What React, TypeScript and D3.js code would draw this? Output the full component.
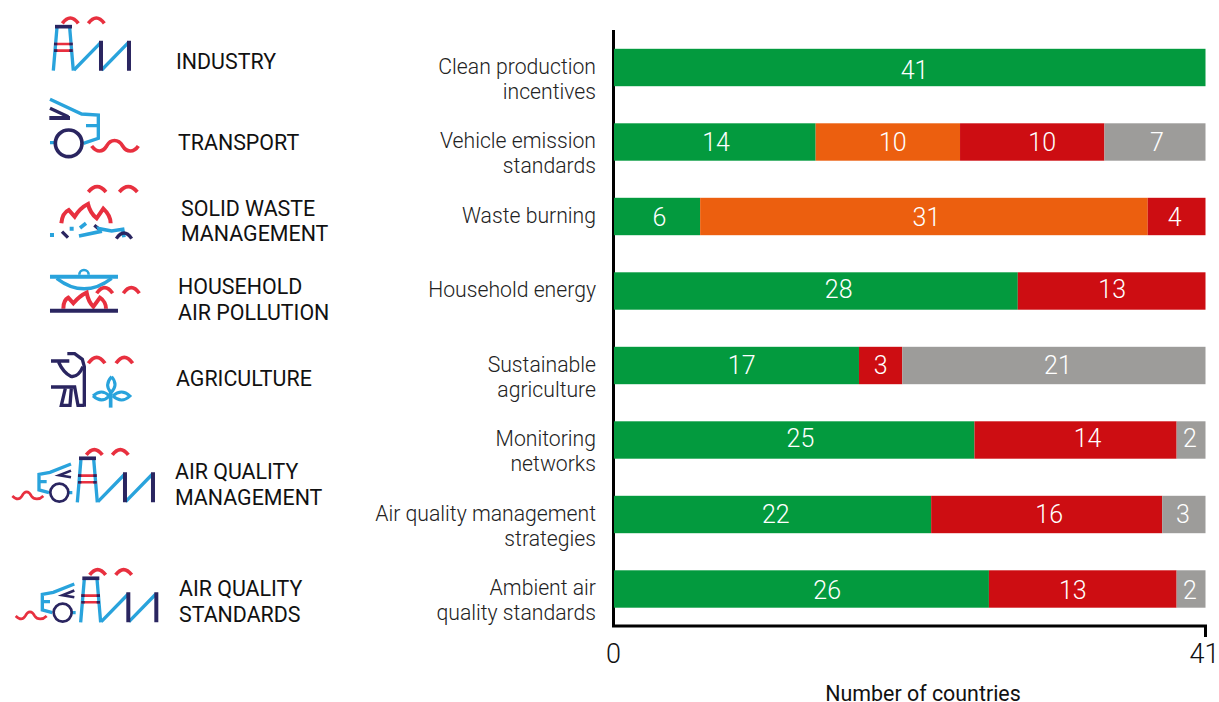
import React from "react";
import * as d3 from "d3";

const rowLines = [
  ["Clean production", "incentives"],
  ["Vehicle emission", "standards"],
  ["Waste burning"],
  ["Household energy"],
  ["Sustainable", "agriculture"],
  ["Monitoring", "networks"],
  ["Air quality management", "strategies"],
  ["Ambient air", "quality standards"],
];
const implemented = [41, 14, 6, 28, 17, 25, 22, 26];
const partial = [0, 10, 31, 0, 0, 0, 0, 0];
const notImplemented = [0, 10, 4, 13, 3, 14, 16, 13];
const noData = [0, 7, 0, 0, 21, 2, 3, 2];
const seriesValues = [implemented, partial, notImplemented, noData];
const seriesColors = ["#039a3e", "#ec5f0f", "#cd0d12", "#9d9c9a"];
const labelNudgeX = [
  [5, 0, 0, 0],
  [1.5, 5, 10, 2],
  [2.5, 2.5, -2, 0],
  [23, 0, 0.5, 0],
  [5.5, 0, 0, 4],
  [6.5, 0, 12, -1],
  [3.5, 0, 2.5, -1],
  [26, 0, -10, -1],
];
const labelNudgeY = [2, 0, 0, -2, -1, -2, -0.5, 1];
const xTicks = [0, 41];
const INK = "#111";
const BLUE = "#29a3dc";
const NAVY = "#2a2560";
const RED = "#e8303f";

const x = d3.scaleLinear().domain([0, 41]).range([613.5, 1205.5]);
const cy = (i: number) => 67.5 + i * 74.5;
const BAR_H = 37.4;

const P = (p: { d: string; c: string; w?: number; fill?: string }) => (
  <path d={p.d} stroke={p.c} strokeWidth={p.w ?? 10} fill={p.fill ?? "none"} />
);
const Arc = ({ a, b, by, top }: { a: number; b: number; by: number; top: number }) => (
  <P d={`M${a} ${by} Q${(a + b) / 2} ${2 * top - by} ${b} ${by}`} c={RED} w={11} />
);

const Factory = () => (
  <g>
    <P d="M160 212 L171 82 M220 212 L209 82" c={BLUE} />
    <P d="M165 80 H216" c={NAVY} w={11} />
    <P d="M162 132 H218 M162 152 H218" c={RED} w={8} />
    <P d="M162 132 H172 M208 132 H218 M162 152 H172 M208 152 H218" c={NAVY} w={8} />
    <P d="M222 210 L302 128 M305 210 L385 128" c={BLUE} />
    <P d="M303 122 V212 M387 122 V212" c={NAVY} w={12} />
    <Arc a={187} b={235} by={70} top={54} />
    <Arc a={265} b={313} by={70} top={54} />
  </g>
);
const SmallCar = () => (
  <g>
    <P d="M213 72 L150 97 L117 103 V150 L147 158 M117 125 H140 M205 158 H217" c={BLUE} />
    <P d="M213 92 L178 106 L213 112" c={NAVY} w={8} />
    <circle cx={178} cy={158} r={27} fill="none" stroke={NAVY} strokeWidth={8} />
    <P d="M37 168 C50 180 58 180 66 168 C74 152 86 152 94 168 C102 180 118 180 130 168" c={RED} w={8} />
  </g>
);
const Flames = ({ s }: { s: string }) => <P d={s} c={RED} w={12} />;

const Icons = () => (
  <g>
    <g transform="scale(0.3333)">
      <Factory />
      {/* transport */}
      <P d="M150 298 L245 342 L295 345 V415 L250 430 M258 377 H295 M150 428 H162" c={BLUE} />
      <P d="M150 325 L205 350" c={NAVY} w={10} />
      <P d="M148 354 H210" c={NAVY} w={12} />
      <circle cx={206} cy={430} r={40} fill="none" stroke={NAVY} strokeWidth={11} />
      <P d="M275 438 C290 458 308 458 320 438 C332 416 355 416 368 438 C380 458 402 458 415 438" c={RED} w={11} />
      {/* solid waste */}
      <Arc a={265} b={318} by={576} top={560} />
      <Arc a={358} b={412} by={576} top={560} />
      <Flames s="M184 670 C186 650 195 635 206 630 L224 650 C235 632 248 620 264 612 C268 630 278 645 290 655 L310 626 C325 640 332 655 332 670" />
      <P d="M150 705 H162 M209 686 H221" c={BLUE} w={12} />
      <P d="M240 684 L258 670" c={BLUE} w={11} />
      <P d="M186 695 L204 713 M283 676 L299 689" c={NAVY} w={10} />
      <P d="M237 708 L300 695 L297 686 L335 693 L368 688 L372 712" c={BLUE} w={11} />
      <P d="M349 716 Q372 682 395 716" c={NAVY} w={10} />
      {/* household */}
      <g transform="translate(0,750)">
        <P d="M150 80 H354" c={BLUE} w={12} />
        <P d="M170 85 Q252 148 335 85" c={BLUE} w={10} />
        <P d="M238 74 A14 14 0 0 1 266 74" c={BLUE} w={8} />
        <Flames s="M190 176 C190 160 195 148 205 143 L220 160 C230 148 245 135 260 128 C263 145 270 160 280 170 L300 143 C312 150 318 165 318 176" />
        <P d="M150 182 H354" c={NAVY} w={12} />
        <Arc a={290} b={338} by={130} top={113} />
        <Arc a={370} b={418} by={130} top={113} />
      </g>
      {/* agriculture */}
      <g transform="translate(0,750)">
        <P d="M202 311 H224 L247 328 L253 350 V470" c={NAVY} w={10} />
        <P d="M153 333 H208 M176 337 Q190 368 212 379 Q234 384 249 350 M153 411 H224 L234 466 H252" c={NAVY} w={10} />
        <P d="M196 415 L184 466 H210 L214 415" c={NAVY} w={10} />
        <P d="M332 420 V473" c={BLUE} w={11} />
        <P d="M335 380 Q356 405 333 428 Q312 405 335 380 M279 438 Q305 414 328 438 Q305 462 279 438 M338 438 Q365 414 390 438 Q365 462 338 438" c={BLUE} w={9} />
        <Arc a={265} b={315} by={340} top={322} />
        <Arc a={348} b={398} by={340} top={322} />
      </g>
      {/* air quality management */}
      <g transform="translate(72,1295)"><Factory /></g>
      <g transform="translate(0,1320)"><SmallCar /></g>
      {/* air quality standards */}
      <g transform="translate(82,1655)"><Factory /></g>
      <g transform="translate(10,1680)"><SmallCar /></g>
    </g>
  </g>
);

const legend = [
  { x: 176, ys: [61], t: ["INDUSTRY"] },
  { x: 178, ys: [142], t: ["TRANSPORT"] },
  { x: 181, ys: [208, 233], t: ["SOLID WASTE", "MANAGEMENT"] },
  { x: 178, ys: [286, 312], t: ["HOUSEHOLD", "AIR POLLUTION"] },
  { x: 176, ys: [378], t: ["AGRICULTURE"] },
  { x: 175, ys: [471, 497], t: ["AIR QUALITY", "MANAGEMENT"] },
  { x: 179, ys: [588, 614], t: ["AIR QUALITY", "STANDARDS"] },
];

export default function App() {
  return (
    <svg width={1219} height={702} style={{ position: "absolute", left: 0, top: 0, display: "block", background: "#fff" }} fontFamily="Roboto">
      <Icons />
      {legend.map((l, i) =>
        l.t.map((t, k) => (
          <text key={`${i}-${k}`} x={l.x} y={l.ys[k]} dy="0.36em" fontSize={21.4} fill={INK}>{t}</text>
        ))
      )}
      <path d={`M${x(0)} 30 V626 H${x(41)} V637`} fill="none" stroke="#000" strokeWidth={3} />
      {rowLines.map((lines, i) => (
        <g key={i}>
          {lines.map((t, k) => (
            <text key={k} x={596} y={cy(i) - 1.5 + k * 25.2} dy="0.36em" textAnchor="end" fontSize={21.2} fontWeight={300} fill="#222">{t}</text>
          ))}
        </g>
      ))}
      {rowLines.map((_, i) => {
        let acc = 0;
        return (
          <g key={i}>
            {seriesValues.map((s, j) => {
              const v = s[i];
              const x0 = x(acc);
              acc += v;
              const x1 = x(acc);
              if (!v) return null;
              return (
                <g key={j}>
                  <rect x={x0 + (j === 0 ? 0.5 : 0)} y={cy(i) - BAR_H / 2} width={x1 - x0 - (j === 0 ? 0.5 : 0)} height={BAR_H} fill={seriesColors[j]} />
                  <text x={(x0 + x1) / 2 + labelNudgeX[i][j]} y={cy(i) + labelNudgeY[i]} dy="0.36em" textAnchor="middle" fontSize={25} fontWeight={300} fill="#fff">{v}</text>
                </g>
              );
            })}
          </g>
        );
      })}
      {xTicks.map((t) => (
        <text key={t} x={t === 0 ? x(t) : x(t) - 1} y={653} dy="0.36em" textAnchor="middle" fontSize={27} fontWeight={300} fill={INK}>{t}</text>
      ))}
      <text x={923} y={693} dy="0.36em" textAnchor="middle" fontSize={21.4} fill={INK}>Number of countries</text>
    </svg>
  );
}
